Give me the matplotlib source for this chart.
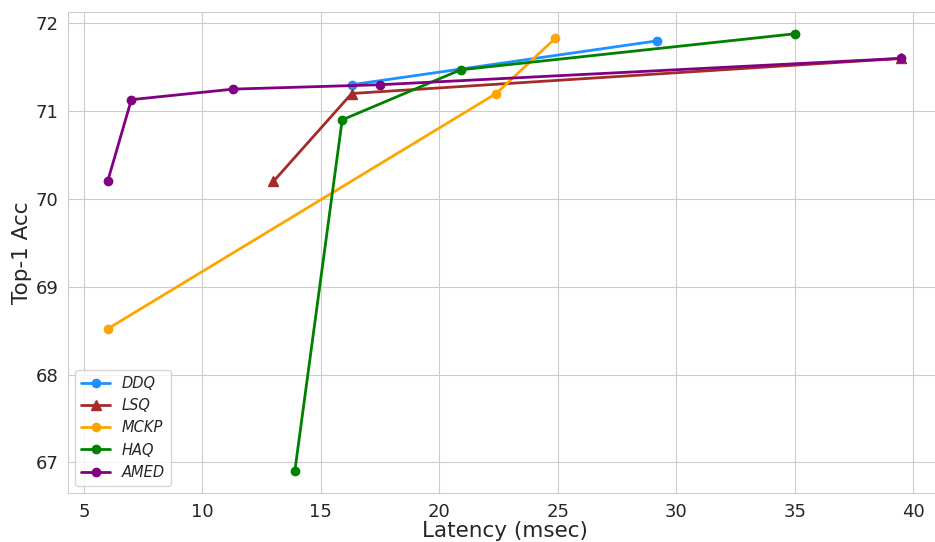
import numpy as np
import matplotlib
matplotlib.use("Agg")
import matplotlib.pyplot as plt
import seaborn as sns

# latency (msec) / top-1 accuracy per method
ddq_x = [16.3, 29.2]
ddq_y = [71.3, 71.8]
lsq_x = [13.0, 16.3, 39.5]
lsq_y = [70.2, 71.2, 71.6]
mckp_x = [6.0, 22.4, 24.9]
mckp_y = [68.52, 71.2, 71.83]
haq_x = [13.9, 15.9, 20.9, 35.0]
haq_y = [66.9, 70.9, 71.47, 71.88]
amed_x = [6.0, 7.0, 11.3, 17.5, 39.5]
amed_y = [70.2, 71.13, 71.25, 71.3, 71.6]

sns.set_style("whitegrid")

fig, ax = plt.subplots(figsize=(9.35, 5.42), dpi=100)

ax.plot(ddq_x, ddq_y, color="dodgerblue", marker="o", linewidth=2, markersize=6, label="DDQ")
ax.plot(lsq_x, lsq_y, color="brown", marker="^", linewidth=2, markersize=7, label="LSQ")
ax.plot(mckp_x, mckp_y, color="orange", marker="o", linewidth=2, markersize=6, label="MCKP")
ax.plot(haq_x, haq_y, color="green", marker="o", linewidth=2, markersize=6, label="HAQ")
ax.plot(amed_x, amed_y, color="purple", marker="o", linewidth=2, markersize=6, label="AMED")

ax.set_xlabel("Latency (msec)", fontsize=15.5, labelpad=0.5)
ax.set_ylabel("Top-1 Acc", fontsize=15.5, labelpad=2)
ax.tick_params(labelsize=13)
ax.legend(loc="lower left", prop={"style": "italic", "size": 10.5})

# axes runs slightly past the right edge, as in the reference
fig.subplots_adjust(left=0.0727, right=1.0064, top=0.978, bottom=0.0904)
fig.savefig("out.png", dpi=100)
